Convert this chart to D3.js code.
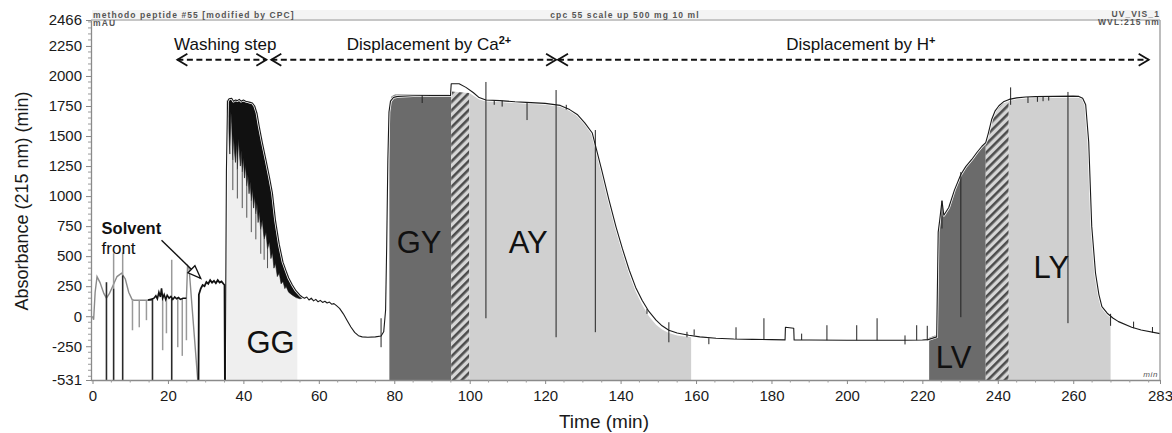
<!DOCTYPE html>
<html><head><meta charset="utf-8">
<script src="https://cdn.jsdelivr.net/npm/d3@7"></script>
<style>
body{margin:0;background:#fff}
svg{display:block}
text{font-family:"Liberation Sans",Arial,sans-serif}
</style>
</head><body>
<svg id="c" width="1172" height="433"></svg>
<script>
// ---------------- DATA ----------------
const xTicks = [0,20,40,60,80,100,120,140,160,180,200,220,240,260,283];
const yTicks = [-531,-250,0,250,500,750,1000,1250,1500,1750,2000,2250,2466];

// early gray baseline trace (0-16 min)
const earlyTrace = [[0,0],[0.3,-30],[0.7,200],[1.2,330],[2,280],[3,190],[3.7,150],[4.5,190],[5.5,260],[6.5,330],[7.7,358],[8.7,310],[9.6,200],[10.5,138],[11,133],[16,133]];
// solvent front gray trace
const solventTrace = [[24.9,150],[25.2,420],[25.6,400],[27.9,-531]];
// noisy dark traces
const noisyTrace1 = [[14.7,135],[15.5,140],[16.3,150],[16.8,170],[17.2,145],[17.6,200],[18,160],[18.3,233],[18.6,150],[19,180],[19.4,140],[19.8,175],[20.3,150],[20.8,165],[21.3,140],[21.8,160],[22.3,145],[22.8,155],[23.3,140],[24,150],[24.9,150]];
const noisyTrace2 = [[28.1,-531],[28.2,180],[28.7,230],[29.2,260],[29.7,250],[30.2,285],[30.7,270],[31.2,300],[31.7,280],[32.2,295],[32.7,275],[33.2,300],[33.7,280],[34.2,290],[34.7,270],[35,260],[35.1,-531]];
// main chromatogram trace (min, mAU)
const mainTrace = [[35.2,-531],[35.5,1200],[35.8,1790],[36.2,1810],[36.9,1815],[37.4,1790],[37.9,1800],[38.4,1795],[38.9,1805],[39.4,1790],[40,1800],[40.6,1790],[41.2,1785],[41.8,1780],[42.4,1775],[43,1750],[43.6,1690],[44.2,1580],[45,1450],[46,1300],[46.9,1160],[47.7,1025],[48.5,800],[49.5,600],[50.5,450],[51.3,380],[52,320],[53,260],[54,210],[55,175],[55.6,160],[56.2,150],[56.8,160],[57.4,135],[58,150],[58.6,128],[59.2,140],[59.8,120],[60.4,132],[61,115],[61.6,125],[62.2,110],[62.8,118],[63.4,100],[64,105],[64.6,90],[65.5,65],[66.5,20],[67.5,-35],[68.5,-90],[69.5,-135],[70.5,-162],[71.5,-172],[73,-175],[75,-172],[76.5,-165],[77.2,-130],[77.7,50],[78,600],[78.3,1300],[78.6,1700],[79,1790],[79.8,1822],[81,1830],[85,1835],[90,1838],[94.9,1838],[95.1,1935],[97.2,1935],[99,1905],[101,1860],[102.5,1820],[104.3,1800],[108,1795],[112,1785],[115,1780],[120,1772],[124,1755],[126.5,1720],[128.5,1680],[130.5,1610],[132.5,1525],[135,1217],[136.9,970],[138.8,742],[140.5,560],[142.3,383],[144,240],[145.7,133],[147.5,40],[149.4,-33],[151,-80],[152.8,-117],[155,-140],[158.1,-158],[161,-172],[165.3,-183],[170,-190],[175,-193],[180,-195],[183.6,-197],[183.7,-92],[185.9,-100],[186,-197],[190,-198],[200,-200],[210,-200],[215,-200],[220,-198],[221.5,-195],[223.8,-172],[224.2,700],[224.6,800],[225.2,960],[225.7,840],[227,905],[228.5,1050],[230.2,1180],[231.5,1245],[233.1,1305],[234.5,1365],[235.8,1415],[236.8,1445],[237.5,1525],[238.4,1640],[239.3,1710],[240.3,1752],[241.5,1785],[243,1805],[245,1818],[247.4,1825],[250,1828],[255,1830],[260,1832],[261.5,1830],[262.5,1815],[263.3,1760],[264.1,1450],[264.9,750],[265.9,360],[266.8,180],[267.6,80],[269,25],[270.5,-15],[272,-45],[275.5,-92],[278,-115],[283,-145]];
// dense noisy band of the GG peak: [min, lower, upper]
const ggBand = [[35.6,1700,1790],[36,1650,1810],[36.4,1350,1800],[36.7,1700,1812],[36.9,1600,1815],[37.2,1300,1800],[37.4,1500,1790],[37.7,1350,1798],[37.9,1280,1800],[38.2,1450,1795],[38.4,1220,1795],[38.7,1480,1800],[38.9,1380,1805],[39.2,1250,1795],[39.4,1380,1790],[39.7,1200,1795],[40,1320,1800],[40.3,1150,1795],[40.6,1260,1790],[40.9,1080,1788],[41.2,1180,1785],[41.5,1020,1782],[41.8,1120,1780],[42.1,960,1778],[42.4,1060,1775],[42.7,900,1765],[43,1000,1750],[43.3,850,1725],[43.6,940,1690],[43.9,780,1640],[44.2,870,1580],[44.6,720,1520],[45,800,1450],[45.5,640,1380],[46,700,1300],[46.4,560,1240],[46.9,620,1160],[47.3,480,1100],[47.7,530,1025],[48.1,400,920],[48.5,440,800],[49,330,700],[49.5,360,600],[50,270,520],[50.5,290,450],[51,230,410],[51.3,250,380],[52,200,320],[53,175,260],[54,155,210],[55,145,175],[55.6,150,160]];
// fraction regions (top outlines)
const ggTop = [[35.4,1780],[36.2,1810],[38,1795],[40,1800],[42.4,1775],[43.6,1690],[44.2,1580],[45,1450],[46,1300],[46.9,1160],[47.7,1025],[48.5,800],[49.5,600],[50.5,450],[51.3,380],[52,320],[53,260],[54.3,200]];
const gyTop = [[78.7,1650],[78.9,1790],[79.3,1832],[80.2,1845],[95.1,1848]];
const hatch1Top = [[95.1,1870],[99.9,1858]];
const ayTop = [[99.9,1858],[101,1835],[102.5,1805],[104.3,1790],[108,1785],[115,1772],[120,1764],[124,1745],[126.5,1710],[128.5,1668],[130.5,1600],[132.5,1510],[135,1200],[136.9,950],[138.8,720],[140.5,530],[142.3,350],[144,205],[145.7,95],[147.5,0],[149.4,-70],[151,-110],[152.8,-140],[155,-160],[158.7,-175]];
const lvTop = [[221.8,-180],[223.9,-155],[224.2,690],[224.6,790],[225.2,950],[225.7,830],[227,895],[228.5,1040],[230.2,1170],[231.5,1235],[233.1,1295],[234.5,1355],[235.8,1405],[236.8,1435]];
const hatch2Top = [[236.8,1435],[237.5,1515],[238.4,1630],[239.3,1700],[240.3,1742],[241.5,1772],[242.9,1790]];
const lyTop = [[242.9,1790],[245,1808],[247.4,1815],[255,1820],[261.5,1822],[262.5,1805],[263.3,1745],[264.1,1440],[264.9,740],[265.9,350],[266.8,170],[267.6,70],[269,10],[269.9,-15]];
// spikes: [min, from, to]
const heavySpikes = [[3.7,283,-531],[5.6,230,-531],[8,340,-531],[15.9,150,-531],[21,150,-531]];
const graySpikes = [[5.6,230,525],[8,340,530],[21,150,470],[10.6,133,-117],[12.4,133,-92],[14.3,133,-33],[18.6,150,-283],[19.6,150,-142],[22.6,150,-258],[23.8,150,-330],[24.9,150,-200]];
const streakSpikes = [[37.2,1300,1050],[38.4,1220,980],[39.7,1200,900],[40.9,1080,820],[42.1,960,700],[43.3,850,640],[44.6,720,520],[45.5,640,470],[46.4,560,400]];
const thinSpikes = [[76.5,-17,-258],[87.4,1840,1775],[104.3,1950,-17],[106.5,1795,1760],[108.6,1795,1745],[115.2,1780,1633],[122.9,1883,-175],[125.6,1760,1720],[133.3,1550,-133],[147,60,20],[152.8,-50,-217],[157.6,-130,-175],[159.5,-160,-110],[163.4,-183,-233],[170.6,-190,-92],[178,-195,-17],[188,-198,-145],[194.7,-200,-75],[202.6,-200,-75],[208,-200,-17],[215.4,-235,-160],[218.5,-200,-75],[221.3,-200,-80],[225.2,960,730],[230.2,1200,-8],[243.4,1905,1760],[248,1825,1775],[250.5,1828,1785],[252,1829,1790],[253.5,1830,1795],[258.6,1867,-58],[269.9,20,-80],[276,-100,-45],[281,-138,-90]];
// phases
const phaseNames = ["Washing step","Displacement by Ca","Displacement by H"];
const phaseSup = ["","2+","+"];
const phaseStart = [22.5,47.4,123.4];
const phaseEnd = [46.1,122.9,280];
const phaseLabelT = [35.2,89.2,203.7];
// fraction labels
const fracNames = ["GG","GY","AY","LV","LY"];
const fracT = [47.2,86.6,115.5,228.3,254.2];
const fracV = [-308,525,525,-433,317];

// ---------------- DRAW ----------------
const svg = d3.select('#c');
const x = d3.scaleLinear().domain([0,283]).range([92.5,1160]);
const y = d3.scaleLinear().domain([-531,2466]).range([380,20]);
const line = d3.line().x(d=>x(d[0])).y(d=>y(d[1]));
const area = d3.area().x(d=>x(d[0])).y0(y(-531)).y1(d=>y(d[1]));
const band = d3.area().x(d=>x(d[0])).y0(d=>y(d[1])).y1(d=>y(d[2]));

const defs = svg.append('defs');
const pat = defs.append('pattern').attr('id','hatch').attr('patternUnits','userSpaceOnUse')
  .attr('width',6).attr('height',6).attr('patternTransform','rotate(45)');
pat.append('rect').attr('width',6).attr('height',6).attr('fill','#d6d6d6');
pat.append('rect').attr('width',2.6).attr('height',6).attr('fill','#4d4d4d');

// header
svg.append('rect').attr('x',92).attr('y',10).attr('width',1068).attr('height',9).attr('fill','#f4f4f4');
svg.append('line').attr('x1',91).attr('x2',1160).attr('y1',20).attr('y2',20).attr('stroke','#c6c6c6').attr('stroke-width',2);
const hdr = (t,xx,yy,anchor)=>svg.append('text').attr('x',xx).attr('y',yy).attr('text-anchor',anchor)
  .attr('font-size',8.5).attr('font-weight','bold').attr('letter-spacing',1.1).attr('fill','#555').text(t);
hdr('methodo peptide #55 [modified by CPC]',93,18,'start');
hdr('mAU',93,26,'start');
hdr('cpc 55 scale up 500 mg 10 ml',625,18,'middle');
hdr('UV_VIS_1',1160,17,'end');
hdr('WVL:215 nm',1160,25,'end');

// fills
const regions = [[ggTop,'#efefef'],[gyTop,'#6b6b6b'],[hatch1Top,'url(#hatch)'],[ayTop,'#d0d0d0'],
                 [lvTop,'#6b6b6b'],[hatch2Top,'url(#hatch)'],[lyTop,'#d0d0d0']];
regions.forEach(r=>svg.append('path').attr('d',area(r[0])).attr('fill',r[1]));

// gray early traces and spikes
svg.append('path').attr('d',line(earlyTrace)).attr('fill','none').attr('stroke','#8a8a8a').attr('stroke-width',1.4);
svg.append('path').attr('d',line(solventTrace)).attr('fill','none').attr('stroke','#8a8a8a').attr('stroke-width',1.4);
svg.selectAll('.gs').data(graySpikes).enter().append('line')
  .attr('x1',d=>x(d[0])).attr('x2',d=>x(d[0])).attr('y1',d=>y(d[1])).attr('y2',d=>y(d[2]))
  .attr('stroke','#9a9a9a').attr('stroke-width',1.5);
svg.selectAll('.hs').data(heavySpikes).enter().append('line')
  .attr('x1',d=>x(d[0])).attr('x2',d=>x(d[0])).attr('y1',d=>y(d[1])).attr('y2',d=>y(d[2]))
  .attr('stroke','#2a2a2a').attr('stroke-width',1.6);

// GG band
svg.append('path').attr('d',band(ggBand)).attr('fill','#111').attr('stroke','#111').attr('stroke-width',0.6);
svg.selectAll('.ss').data(streakSpikes).enter().append('line')
  .attr('x1',d=>x(d[0])).attr('x2',d=>x(d[0])).attr('y1',d=>y(d[1])).attr('y2',d=>y(d[2]))
  .attr('stroke','#444').attr('stroke-width',0.9);

// main trace
svg.append('path').attr('d',line(mainTrace)).attr('fill','none').attr('stroke','#fff').attr('stroke-width',2.6).attr('stroke-linejoin','round');
svg.selectAll('.ts').data(thinSpikes).enter().append('line')
  .attr('x1',d=>x(d[0])).attr('x2',d=>x(d[0])).attr('y1',d=>y(d[1])).attr('y2',d=>y(d[2]))
  .attr('stroke','#222').attr('stroke-width',1);
svg.append('path').attr('d',line(mainTrace)).attr('fill','none').attr('stroke','#1a1a1a').attr('stroke-width',1.1).attr('stroke-linejoin','round');
svg.append('path').attr('d',line(noisyTrace1)).attr('fill','none').attr('stroke','#111').attr('stroke-width',1.6);
svg.append('path').attr('d',line(noisyTrace2)).attr('fill','none').attr('stroke','#111').attr('stroke-width',1.8);

// fraction labels
fracNames.forEach((n,i)=>svg.append('text').attr('x',x(fracT[i])).attr('y',y(fracV[i]))
  .attr('text-anchor','middle').attr('font-size',31).attr('fill','#111').text(n));

// phase arrows
const arrowV = 2135, labelV = 2218;
phaseNames.forEach((n,i)=>{
  const x0 = x(phaseStart[i]), x1 = x(phaseEnd[i]), yy = y(arrowV);
  svg.append('line').attr('x1',x0).attr('x2',x1).attr('y1',yy).attr('y2',yy)
    .attr('stroke','#111').attr('stroke-width',1.8).attr('stroke-dasharray','6,3.5');
  svg.append('path').attr('d',`M${x0+10},${yy-6}L${x0},${yy}L${x0+10},${yy+6}`).attr('fill','none').attr('stroke','#111').attr('stroke-width',1.8);
  svg.append('path').attr('d',`M${x1-10},${yy-6}L${x1},${yy}L${x1-10},${yy+6}`).attr('fill','none').attr('stroke','#111').attr('stroke-width',1.8);
  const t = svg.append('text').attr('x',x(phaseLabelT[i])).attr('y',y(labelV)).attr('text-anchor','middle')
    .attr('font-size',17).attr('fill','#111').text(n);
  if (phaseSup[i]) t.append('tspan').attr('dy',-6).attr('font-size',11).attr('font-weight','bold').text(phaseSup[i]);
});

// solvent front annotation
svg.append('text').attr('x',x(2.4)).attr('y',y(683)).attr('font-size',16.5).attr('font-weight','bold').attr('fill','#111').text('Solvent');
svg.append('text').attr('x',x(2.4)).attr('y',y(517)).attr('font-size',17).attr('fill','#111').text('front');
{
  const ax0 = x(18.3), ay0 = y(633), ax1 = x(28.7), ay1 = y(315);
  svg.append('line').attr('x1',ax0).attr('y1',ay0).attr('x2',ax1).attr('y2',ay1).attr('stroke','#111').attr('stroke-width',1.4);
  const dx = ax1-ax0, dy = ay1-ay0, L = Math.hypot(dx,dy), ux = dx/L, uy = dy/L;
  const bx = ax1-ux*13, by = ay1-uy*13;
  svg.append('path').attr('d',`M${ax1},${ay1}L${bx-uy*5},${by+ux*5}L${bx+uy*5},${by-ux*5}Z`)
    .attr('fill','#fff').attr('stroke','#111').attr('stroke-width',1.3);
}

// axes
const yAxis = svg.append('g').attr('transform','translate(91,0)')
  .call(d3.axisLeft(y).tickValues(yTicks).tickSize(5).tickSizeOuter(0).tickPadding(4).tickFormat(d=>d));
const xAxis = svg.append('g').attr('transform','translate(0,380)')
  .call(d3.axisBottom(x).tickValues(xTicks).tickSize(4).tickSizeOuter(0).tickPadding(6).tickFormat(d=>d));
[yAxis,xAxis].forEach(g=>{
  g.select('.domain').attr('stroke','#8a8a8a').attr('stroke-width',1.3);
  g.selectAll('.tick line').attr('stroke','#888');
  g.selectAll('.tick text').attr('font-size',15).attr('fill','#1a1a1a').attr('font-family','"Liberation Sans",Arial,sans-serif');
});
xAxis.select('.domain').attr('d','M91,0.5H1160.5');
svg.selectAll('.ymin').data(d3.range(-500,2466,50).filter(v=>!yTicks.includes(v))).enter().append('line')
  .attr('x1',88).attr('x2',91).attr('y1',d=>y(d)).attr('y2',d=>y(d)).attr('stroke','#999');
svg.selectAll('.xmin').data(d3.range(5,283,5).filter(v=>!xTicks.includes(v))).enter().append('line')
  .attr('x1',d=>x(d)).attr('x2',d=>x(d)).attr('y1',380).attr('y2',382.5).attr('stroke','#999');
svg.append('line').attr('x1',1160).attr('x2',1160).attr('y1',20).attr('y2',380).attr('stroke','#999').attr('stroke-width',1.3);
svg.append('text').attr('x',1158).attr('y',377).attr('text-anchor','end').attr('font-size',8).attr('font-style','italic')
  .attr('letter-spacing',0.6).attr('fill','#555').text('min');

// axis titles
svg.append('text').attr('transform','translate(28,201) rotate(-90)').attr('text-anchor','middle')
  .attr('font-size',18).attr('fill','#1a1a1a').text('Absorbance (215 nm) (min)');
svg.append('text').attr('x',604).attr('y',428).attr('text-anchor','middle')
  .attr('font-size',19).attr('fill','#1a1a1a').text('Time (min)');
</script>
</body></html>
